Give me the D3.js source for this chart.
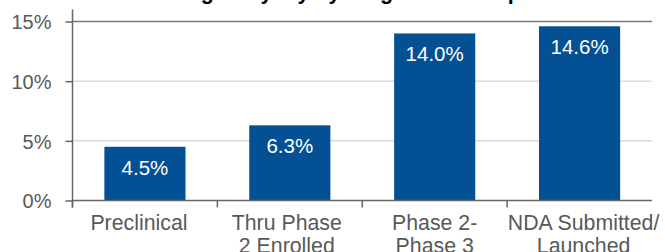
<!DOCTYPE html>
<html><head><meta charset="utf-8">
<script src="https://cdnjs.cloudflare.com/ajax/libs/d3/7.8.5/d3.min.js"></script>
<style>
html,body{margin:0;padding:0;background:#fff;overflow:hidden;}
svg{display:block;font-family:"Liberation Sans",Arial,sans-serif;}
</style></head>
<body>
<svg id="chart" width="665" height="252"></svg>
<script>
const title = "Average Royalty by Stage of Development";
const categories = [["Preclinical"], ["Thru Phase", "2 Enrolled"], ["Phase 2-", "Phase 3"], ["NDA Submitted/", "Launched"]];
const values = [4.5, 6.3, 14.0, 14.6];
const yTicks = [0, 5, 10, 15];

const svg = d3.select("#chart");
const pLeft = 72.5, pRight = 652, pTop = 21.5, pBottom = 200.5;

const x = d3.scaleBand().domain(d3.range(categories.length)).range([pLeft, pRight]).paddingInner(0.44).paddingOuter(0.22);
const y = d3.scaleLinear().domain([0, 15]).range([pBottom, pTop]);

// gridlines
svg.append("g").selectAll("line").data(yTicks.filter(d => d > 0)).join("line")
  .attr("x1", pLeft).attr("x2", pRight)
  .attr("y1", d => y(d)).attr("y2", d => y(d))
  .attr("stroke", d => d === 15 ? "#777" : "#c8c8c8").attr("stroke-width", d => d === 15 ? 1.5 : 1);

// bars
svg.append("g").selectAll("rect").data(values).join("rect")
  .attr("x", (d, i) => x(i)).attr("width", x.bandwidth())
  .attr("y", d => y(d)).attr("height", d => y(0) - y(d))
  .attr("fill", "#035194");

// value labels
svg.append("g").selectAll("text").data(values).join("text")
  .attr("x", (d, i) => x(i) + x.bandwidth() / 2)
  .attr("y", d => y(d) + 28)
  .attr("text-anchor", "middle").attr("fill", "#fff")
  .attr("font-size", "20.5px")
  .text(d => d.toFixed(1) + "%");

// y axis
const yAxis = d3.axisLeft(y).tickValues(yTicks).tickFormat(d => d + "%").tickSize(7).tickPadding(14);
const gy = svg.append("g").attr("transform", `translate(${pLeft},0)`).call(yAxis);
gy.select(".domain").attr("stroke", "#666").attr("stroke-width", 1.5).attr("d", `M0,${pTop - 12}V${pBottom + 7}`);
gy.selectAll(".tick line").attr("stroke", "#666").attr("stroke-width", 1.5);
gy.selectAll(".tick text").attr("fill", "#595959").attr("font-size", "20px").attr("font-family", "Liberation Sans, Arial, sans-serif").attr("dy", "0.36em");

// x axis
const gx = svg.append("g").attr("transform", `translate(0,${pBottom})`);
gx.append("line").attr("x1", pLeft).attr("x2", pRight).attr("stroke", "#666").attr("stroke-width", 1.5);
svg.append("g").selectAll("line").data(d3.range(categories.length)).join("line")
  .attr("x1", i => pLeft + i * (pRight - pLeft) / categories.length)
  .attr("x2", i => pLeft + i * (pRight - pLeft) / categories.length)
  .attr("y1", pBottom).attr("y2", pBottom + 7)
  .attr("stroke", "#666").attr("stroke-width", 1.5);

const labelShift = [-6, -3, 0, 4];
const cl = svg.append("g").selectAll("text").data(categories).join("text")
  .attr("text-anchor", "middle").attr("fill", "#595959").attr("font-size", "21.3px")
  .attr("transform", (d, i) => `translate(${x(i) + x.bandwidth() / 2 + labelShift[i]},229.5)`);
cl.selectAll("tspan").data(d => d).join("tspan")
  .attr("x", 0).attr("dy", (d, j) => j === 0 ? 0 : 23).text(d => d);

// title
svg.append("text").attr("x", 357).attr("y", -1).attr("text-anchor", "middle")
  .attr("font-weight", "bold").attr("font-size", "21.5px").attr("fill", "#000")
  .text(title);
</script>
</body></html>
